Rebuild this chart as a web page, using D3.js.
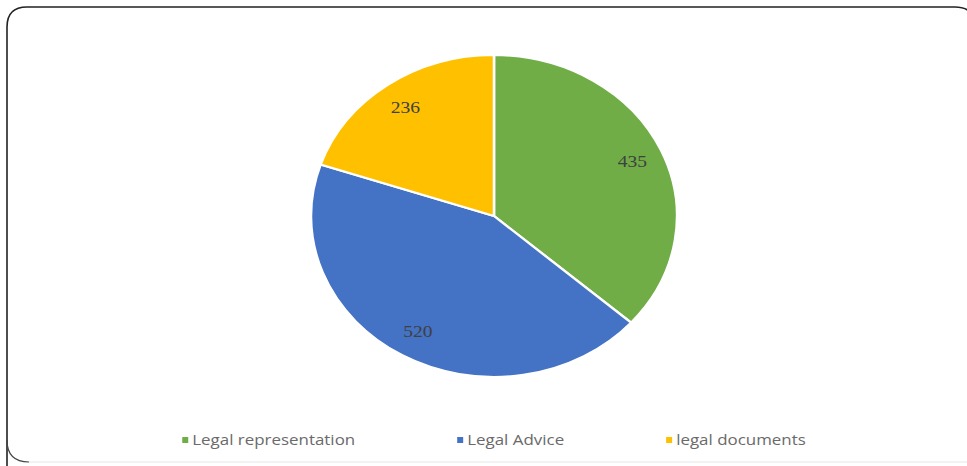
<!DOCTYPE html>
<html><head><meta charset="utf-8">
<script src="https://cdn.jsdelivr.net/npm/d3@7"></script>
<style>body{margin:0;background:#fff;} svg{display:block;}</style>
</head><body>
<svg id="c" width="967" height="466"></svg>
<script>
const categories = ["Legal representation", "Legal Advice", "legal documents"];
const values = [435, 520, 236];
const colors = ["#70ad47", "#4472c4", "#ffc000"];

const W = 967, H = 466;
const svg = d3.select("#c");

// frame
svg.append("path")
  .attr("d", "M7,470 L7,27 Q7,7 27,7 L955,7 Q975,7 975,27")
  .attr("fill", "none").attr("stroke", "#222").attr("stroke-width", 1.6);
svg.append("path")
  .attr("d", "M7,440 Q7,462 29,462")
  .attr("fill", "none").attr("stroke", "#444").attr("stroke-width", 1.2);
svg.append("line").attr("x1", 29).attr("x2", 967).attr("y1", 462).attr("y2", 462)
  .attr("stroke", "#e6e6e6").attr("stroke-width", 1);

const cx = 494, cy = 216, rx = 183, ry = 161;
const pie = d3.pie().sort(null).value(d => d)(values);
const arc = d3.arc().innerRadius(0).outerRadius(rx);
const labelArc = d3.arc().innerRadius(rx * 0.83).outerRadius(rx * 0.83);

const g = svg.append("g").attr("transform", `translate(${cx},${cy}) scale(1,${ry / rx})`);
g.selectAll("path").data(pie).join("path")
  .attr("d", arc)
  .attr("fill", (d, i) => colors[i])
  .attr("stroke", "#fff").attr("stroke-width", 2.5);

svg.append("g").selectAll("text").data(pie).join("text")
  .attr("transform", d => `translate(${cx + labelArc.centroid(d)[0]},${cy + labelArc.centroid(d)[1] * ry / rx}) scale(1.15,1)`)
  .attr("text-anchor", "middle").attr("dominant-baseline", "central")
  .attr("font-family", "Liberation Serif, serif").attr("font-size", 17)
  .attr("fill", "#404040")
  .text(d => d.data);

// legend
const sx = 1.21, gap = 102, markerGap = 10;
const lg = svg.append("g");
const items = lg.selectAll("g").data(categories).join("g");
items.append("rect").attr("x", 0).attr("y", -3).attr("width", 6).attr("height", 6)
  .attr("fill", (d, i) => colors[i]);
const texts = items.append("text")
  .attr("transform", `translate(${markerGap},0) scale(${sx},1)`)
  .attr("dominant-baseline", "central")
  .attr("font-family", "Open Sans, sans-serif").attr("font-size", 14)
  .attr("fill", "#6a6a6a").text(d => d);
const widths = texts.nodes().map(n => n.getComputedTextLength() * sx + markerGap);
const total = d3.sum(widths) + gap * (widths.length - 1);
let x0 = cx - total / 2;
items.attr("transform", (d, i) => {
  const x = x0; x0 += widths[i] + gap;
  return `translate(${x},440)`;
});
</script>
</body></html>
